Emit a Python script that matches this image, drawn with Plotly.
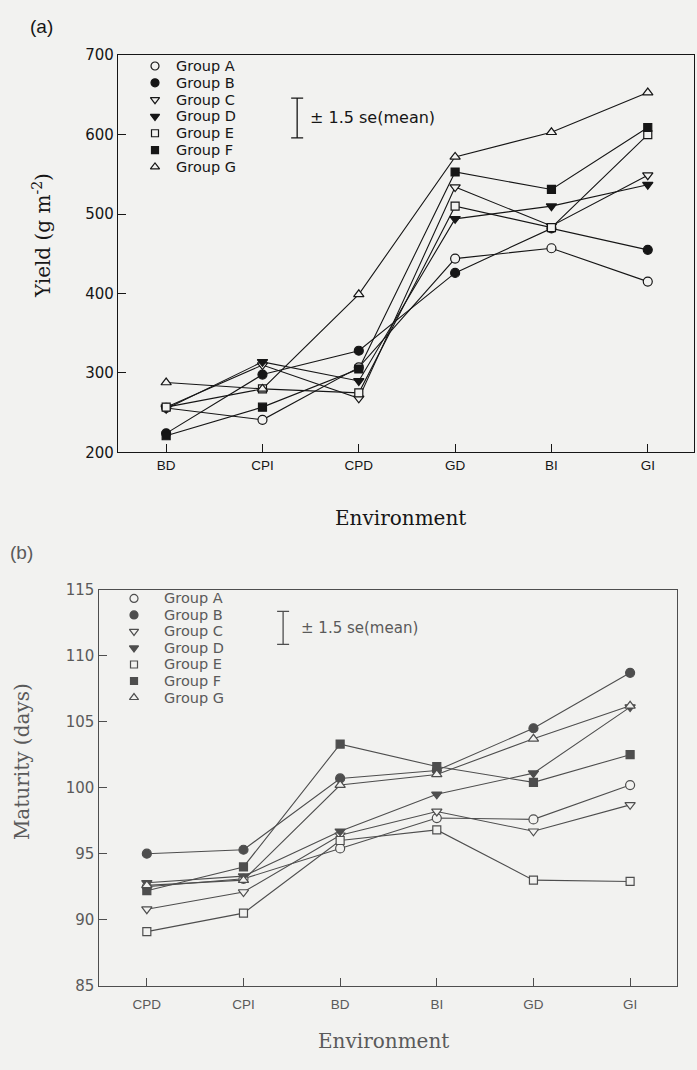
import plotly.graph_objects as go

# ---------------- data ----------------
GROUPS = ["Group A", "Group B", "Group C", "Group D", "Group E", "Group F", "Group G"]

# (a) Yield (g m^-2)
ENV_A = ["BD", "CPI", "CPD", "GD", "BI", "GI"]
YIELD_A = [256, 241, 307, 444, 457, 415]
YIELD_B = [224, 298, 328, 426, 482, 455]
YIELD_C = [257, 310, 268, 534, 485, 549]
YIELD_D = [255, 314, 290, 494, 510, 537]
YIELD_E = [257, 280, 275, 510, 483, 600]
YIELD_F = [221, 257, 305, 553, 531, 609]
YIELD_G = [288, 280, 399, 572, 603, 653]
YIELD_TICKS = [200, 300, 400, 500, 600, 700]
YIELD_SE_CENTER = 621
YIELD_SE_HALF = 25

# (b) Maturity (days)
ENV_B = ["CPD", "CPI", "BD", "BI", "GD", "GI"]
MAT_A = [92.5, 93.1, 95.4, 97.7, 97.6, 100.2]
MAT_B = [95.0, 95.3, 100.7, 101.3, 104.5, 108.7]
MAT_C = [90.8, 92.1, 96.4, 98.2, 96.7, 98.7]
MAT_D = [92.8, 93.3, 96.7, 99.5, 101.1, 106.1]
MAT_E = [89.1, 90.5, 96.0, 96.8, 93.0, 92.9]
MAT_F = [92.2, 94.0, 103.3, 101.6, 100.4, 102.5]
MAT_G = [92.6, 93.0, 100.2, 101.0, 103.7, 106.2]
MAT_TICKS = [85, 90, 95, 100, 105, 110, 115]
MAT_SE_CENTER = 112.1
MAT_SE_HALF = 1.25

SE_X_A = 1.36
SE_X_B = 1.41

YIELDS = [YIELD_A, YIELD_B, YIELD_C, YIELD_D, YIELD_E, YIELD_F, YIELD_G]
MATS = [MAT_A, MAT_B, MAT_C, MAT_D, MAT_E, MAT_F, MAT_G]

# ---------------- style ----------------
W, H = 697, 1070
BG = "#f2f2f0"
INK_A = "#161616"
INK_B = "#4e4e4e"
TXT_B = "#5a5a5a"
SYMBOLS = ["circle", "circle", "triangle-down", "triangle-down", "square", "square", "triangle-up"]
FILLED = [False, True, False, True, False, True, False]
SIZES = [9, 9, 9, 9, 8, 8, 9]
SANS = "Liberation Sans, Arial, sans-serif"
WIDE = "DejaVu Sans, sans-serif"
SERIF = "DejaVu Serif, serif"

# legend key layout (pixels of the page)
LEG_A = dict(sym_x=155, txt_x=174, y0=58, dy=17.1, ink=INK_A, txt=INK_A)
LEG_B = dict(sym_x=134, txt_x=162, y0=599.5, dy=16.8, ink=INK_B, txt=TXT_B)

fig = go.Figure()


def style(sym, filled, sz, ink):
    return dict(symbol=sym, size=sz, color=ink if filled else BG,
                line=dict(color=ink, width=1.2))


def add_panel(cats, series, ink, xa, ya):
    xs = list(range(len(cats)))
    for vals in series:
        fig.add_trace(go.Scatter(x=xs, y=vals, mode="lines",
                                 line=dict(color=ink, width=1.1),
                                 xaxis=xa, yaxis=ya, showlegend=False,
                                 hoverinfo="skip"))
    for name, vals, sym, filled, sz in zip(GROUPS, series, SYMBOLS, FILLED, SIZES):
        fig.add_trace(go.Scatter(x=xs, y=vals, mode="markers", name=name,
                                 marker=style(sym, filled, sz, ink),
                                 xaxis=xa, yaxis=ya, showlegend=False))


add_panel(ENV_A, YIELDS, INK_A, "x", "y")
add_panel(ENV_B, MATS, INK_B, "x2", "y2")

# error-bar keys
for sx, cy, half, ink, xa, ya in [(SE_X_A, YIELD_SE_CENTER, YIELD_SE_HALF, INK_A, "x", "y"),
                                  (SE_X_B, MAT_SE_CENTER, MAT_SE_HALF, INK_B, "x2", "y2")]:
    fig.add_trace(go.Scatter(x=[sx], y=[cy], mode="markers",
                             marker=dict(size=2, color="rgba(0,0,0,0)"),
                             error_y=dict(type="data", array=[half], color=ink,
                                          thickness=1.3, width=6),
                             xaxis=xa, yaxis=ya, showlegend=False, hoverinfo="skip"))

annotations = []

# manual legends (key symbols on a page-pixel overlay axis)
for leg in (LEG_A, LEG_B):
    for i, (name, sym, filled, sz) in enumerate(zip(GROUPS, SYMBOLS, FILLED, SIZES)):
        yy = leg["y0"] + i * leg["dy"]
        fig.add_trace(go.Scatter(x=[leg["sym_x"]], y=[yy], mode="markers",
                                 marker=style(sym, filled, sz - 1, leg["ink"]),
                                 xaxis="x3", yaxis="y3", showlegend=False,
                                 hoverinfo="skip"))
        annotations.append(dict(text=name, x=leg["txt_x"], y=yy, xref="x3", yref="y3",
                                xanchor="left", yanchor="middle", showarrow=False,
                                font=dict(size=14.5, color=leg["txt"], family=WIDE)))

axis_common = dict(showgrid=False, zeroline=False, showline=True, mirror=True,
                   ticks="inside", ticklen=8, tickwidth=1.2, linewidth=1.3)

annotations += [
    dict(text="± 1.5 se(mean)", x=SE_X_A + 0.11, y=YIELD_SE_CENTER, xref="x", yref="y",
         xanchor="left", yanchor="middle", showarrow=False,
         font=dict(size=16, color=INK_A, family=WIDE)),
    dict(text="± 1.5 se(mean)", x=SE_X_B + 0.16, y=MAT_SE_CENTER, xref="x2", yref="y2",
         xanchor="left", yanchor="middle", showarrow=False,
         font=dict(size=15, color=TXT_B, family=WIDE)),
    dict(text="(a)", x=28, y=18, xref="x3", yref="y3",
         xanchor="left", yanchor="middle", showarrow=False,
         font=dict(size=19, color=INK_A, family=SANS)),
    dict(text="(b)", x=8, y=553, xref="x3", yref="y3",
         xanchor="left", yanchor="middle", showarrow=False,
         font=dict(size=19, color=TXT_B, family=SANS)),
    dict(text="Yield (g m<sup>-2</sup>)", x=42, y=231, xref="x3", yref="y3",
         textangle=-90, xanchor="center", yanchor="middle", showarrow=False,
         font=dict(size=20, color=INK_A, family=SERIF)),
    dict(text="Environment", x=400, y=518, xref="x3", yref="y3",
         xanchor="center", yanchor="middle", showarrow=False,
         font=dict(size=20, color=INK_A, family=SERIF)),
    dict(text="Maturity (days)", x=22, y=766, xref="x3", yref="y3",
         textangle=-90, xanchor="center", yanchor="middle", showarrow=False,
         font=dict(size=20, color=TXT_B, family=SERIF)),
    dict(text="Environment", x=383, y=1050, xref="x3", yref="y3",
         xanchor="center", yanchor="middle", showarrow=False,
         font=dict(size=20, color=TXT_B, family=SERIF)),
]

fig.update_layout(
    width=W, height=H,
    margin=dict(l=0, r=0, t=0, b=0),
    paper_bgcolor=BG, plot_bgcolor="rgba(0,0,0,0)",
    font=dict(family=SANS, color=INK_A),
    showlegend=False,
    xaxis=dict(domain=[118 / W, 694 / W], anchor="y", range=[-0.5, 5.48],
               tickvals=list(range(len(ENV_A))), ticktext=ENV_A,
               linecolor=INK_A, tickcolor=INK_A,
               tickfont=dict(size=13.5, color=INK_A, family=SANS),
               **axis_common),
    yaxis=dict(domain=[1 - 451 / H, 1 - 47 / H], anchor="x", range=[200, 700],
               tickvals=YIELD_TICKS,
               linecolor=INK_A, tickcolor=INK_A,
               tickfont=dict(size=15, color=INK_A, family=WIDE),
               **axis_common),
    xaxis2=dict(domain=[98.5 / W, 676.5 / W], anchor="y2", range=[-0.5, 5.48],
                tickvals=list(range(len(ENV_B))), ticktext=ENV_B,
                linecolor=INK_B, tickcolor=INK_B, ticklabelstandoff=6,
                tickfont=dict(size=13.5, color=TXT_B, family=SANS),
                **axis_common),
    yaxis2=dict(domain=[1 - 993.5 / H, 1 - 590.5 / H], anchor="x2", range=[85, 115],
                tickvals=MAT_TICKS,
                linecolor=INK_B, tickcolor=INK_B,
                tickfont=dict(size=15, color=TXT_B, family=WIDE),
                **axis_common),
    xaxis3=dict(domain=[0, 1], range=[0, W], visible=False, fixedrange=True),
    yaxis3=dict(domain=[0, 1], range=[H, 0], visible=False, fixedrange=True,
                anchor="x3"),
    annotations=annotations,
)

fig.write_html("out.html")
